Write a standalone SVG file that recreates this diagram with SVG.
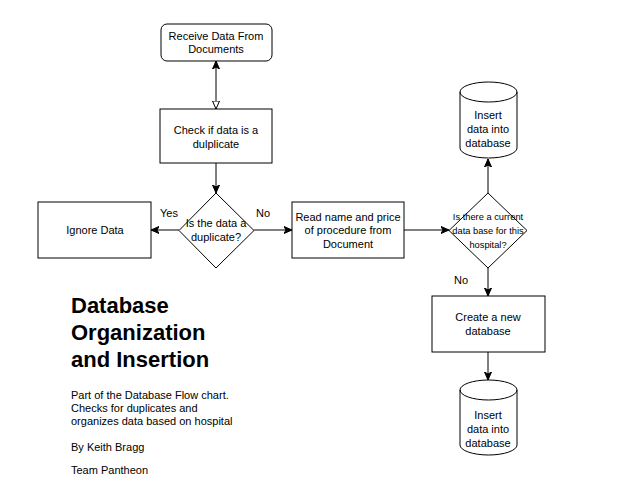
<svg xmlns="http://www.w3.org/2000/svg" width="640" height="501" viewBox="0 0 640 501">
<style>
.s{fill:#fff;stroke:#000;stroke-width:1}
.c{fill:none;stroke:#000;stroke-width:1}
text{font-family:"Liberation Sans",Arial,sans-serif;fill:#000}
.t{font-size:11px;text-anchor:middle}
.sm{font-size:9.3px;text-anchor:middle}
.h{font-size:22px;font-weight:bold}
.p{font-size:11px}
</style>
<defs>
<marker id="a" markerUnits="userSpaceOnUse" markerWidth="10" markerHeight="10" refX="8" refY="4" orient="auto-start-reverse">
<path d="M0,0.5 L8,4 L0,7.5 L2,4 Z" fill="#000" stroke="#000" stroke-width="1"/>
</marker>
<marker id="o" markerUnits="userSpaceOnUse" markerWidth="10" markerHeight="10" refX="8.5" refY="4" orient="auto">
<path d="M0.5,0.5 L8.5,4 L0.5,7.5 Z" fill="#fff" stroke="#000" stroke-width="1"/>
</marker>
</defs>
<rect width="640" height="501" fill="#fff"/>
<g id="connectors">
<line class="c" x1="216" y1="61" x2="216" y2="109" marker-start="url(#a)" marker-end="url(#o)"/>
<line class="c" x1="216" y1="163" x2="216" y2="193" marker-end="url(#a)"/>
<line class="c" x1="179" y1="230" x2="151" y2="230" marker-end="url(#a)"/>
<line class="c" x1="254" y1="230" x2="292" y2="230" marker-end="url(#a)"/>
<line class="c" x1="404" y1="230" x2="449" y2="230" marker-end="url(#a)"/>
<line class="c" x1="488" y1="193" x2="488" y2="159" marker-end="url(#a)"/>
<line class="c" x1="488" y1="268" x2="488" y2="296" marker-end="url(#a)"/>
<line class="c" x1="488" y1="352" x2="488" y2="380" marker-end="url(#a)"/>
<text class="p" x="169" y="217" text-anchor="middle">Yes</text>
<text class="p" x="263" y="217" text-anchor="middle">No</text>
<text class="p" x="461" y="284" text-anchor="middle">No</text>
</g>
<g id="receive">
<rect class="s" x="161" y="24" width="111" height="37" rx="6"/>
<text class="t" x="216" y="40">Receive Data From</text>
<text class="t" x="216" y="53">Documents</text>
</g>
<g id="check">
<rect class="s" x="160" y="109" width="112" height="54"/>
<text class="t" x="216" y="134">Check if data is a</text>
<text class="t" x="216" y="148">dulplicate</text>
</g>
<g id="dup">
<path class="s" d="M216,193 L254,230.5 L216,268 L179,230.5 Z"/>
<text class="t" x="216" y="227">Is the data a</text>
<text class="t" x="216" y="241">duplicate?</text>
</g>
<g id="ignore">
<rect class="s" x="38" y="202" width="113" height="56"/>
<text class="t" x="95" y="234">Ignore Data</text>
</g>
<g id="read">
<rect class="s" x="292" y="202" width="112" height="56"/>
<text class="t" x="348" y="221">Read name and price</text>
<text class="t" x="348" y="234">of procedure from</text>
<text class="t" x="348" y="248">Document</text>
</g>
<g id="current">
<path class="s" d="M488,193 L527,230.5 L488,268 L449,230.5 Z"/>
<text class="sm" x="488" y="220">Is there a current</text>
<text class="sm" x="488" y="234">data base for this</text>
<text class="sm" x="488" y="248">hospital?</text>
</g>
<g id="insert1">
<path class="s" d="M460,92 A28.5,10 0 0 1 517,92 L517,148 A28.5,10 0 0 1 460,148 Z"/>
<path class="c" d="M460,92 A28.5,10 0 0 0 517,92"/>
<text class="t" x="488" y="119">Insert</text>
<text class="t" x="488" y="133">data into</text>
<text class="t" x="488" y="147">database</text>
</g>
<g id="create">
<rect class="s" x="432" y="296" width="113" height="56"/>
<text class="t" x="488" y="321">Create a new</text>
<text class="t" x="488" y="335">database</text>
</g>
<g id="insert2">
<path class="s" d="M460,390 A28.5,10 0 0 1 517,390 L517,445 A28.5,10 0 0 1 460,445 Z"/>
<path class="c" d="M460,390 A28.5,10 0 0 0 517,390"/>
<text class="t" x="488" y="419">Insert</text>
<text class="t" x="488" y="433">data into</text>
<text class="t" x="488" y="447">database</text>
</g>
<g id="title">
<text class="h" x="71" y="313">Database</text>
<text class="h" x="71" y="340">Organization</text>
<text class="h" x="71" y="367">and Insertion</text>
<text class="p" x="71" y="399">Part of the Database Flow chart.</text>
<text class="p" x="71" y="412">Checks for duplicates and</text>
<text class="p" x="71" y="425">organizes data based on hospital</text>
<text class="p" x="71" y="451">By Keith Bragg</text>
<text class="p" x="71" y="474">Team Pantheon</text>
</g>
</svg>
